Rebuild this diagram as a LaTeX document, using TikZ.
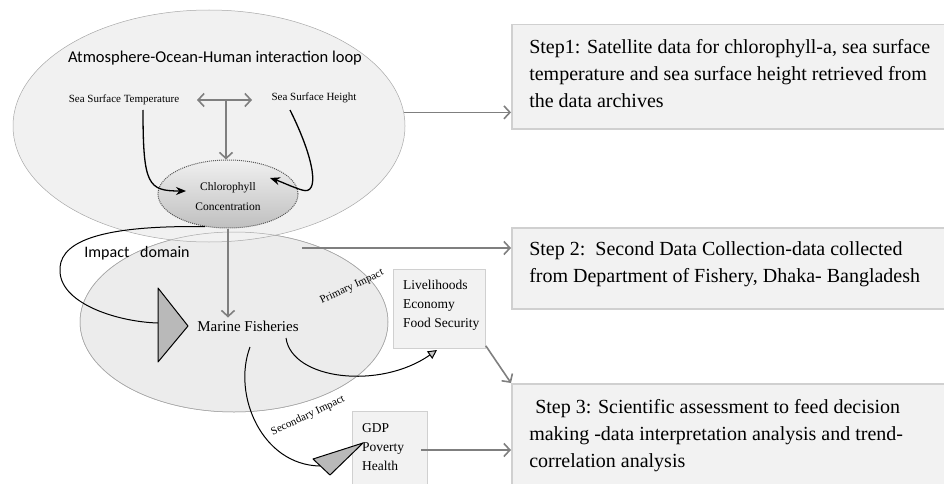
\documentclass[tikz,border=0pt]{standalone}
\usepackage{fontspec}
\setmainfont{Liberation Serif}
\newfontfamily\calib{Carlito}
\usetikzlibrary{arrows.meta,shapes.geometric}
\definecolor{arrowgray}{HTML}{7F7F7F}
\definecolor{boxfill}{HTML}{F2F2F2}
\definecolor{boxline}{HTML}{D0D0D0}
\definecolor{ellfill}{HTML}{F1F1F1}
\definecolor{ellfilltwo}{HTML}{ECECEC}
\definecolor{ellline}{HTML}{A8A8A8}
\begin{document}
\begin{tikzpicture}[x=1pt,y=-1pt,
  garrow/.style={draw=arrowgray, line width=1.6pt, -{Straight Barb[length=6pt,width=13pt]}},
  gdouble/.style={draw=arrowgray, line width=1.6pt, {Straight Barb[length=6pt,width=13pt]}-{Straight Barb[length=6pt,width=13pt]}},
  barrow/.style={draw=black, line width=1.3pt, -{Stealth[length=10pt,width=8pt]}},
  bline/.style={draw=black, line width=1.0pt},
  bigell/.style={ellipse, inner sep=0pt, draw=ellline, line width=0.5pt},
  stepbox/.style={rectangle, anchor=north west, fill=boxfill, draw=boxline, line width=1.5pt, inner sep=0pt},
  smallbox/.style={rectangle, anchor=north west, fill=boxfill, draw=boxline, line width=0.8pt, inner sep=0pt},
  steptext/.style={anchor=north west, inner sep=0pt, align=left, scale=1.3333, transform shape, font=\fontsize{15}{20.25}\selectfont},
  listtext/.style={anchor=north west, inner sep=0pt, align=left, font=\fontsize{13.5}{19}\selectfont},
  smalllabel/.style={inner sep=0pt, font=\fontsize{11}{13}\selectfont},
  tri/.style={draw=black, line width=1.0pt, fill=gray!55, line join=round}
]
\useasboundingbox (0,0) rectangle (944,484);

% ellipses
\node[bigell, fill=ellfilltwo, minimum width=308pt, minimum height=180pt] (low) at (234,322) {};
\node[bigell, fill=ellfill, minimum width=392pt, minimum height=232pt] (atm) at (209,126) {};
\draw[draw=ellline, line width=0.5pt] (234,322) ellipse [x radius=154, y radius=90];

% chlorophyll
\node[ellipse, inner sep=0pt, minimum width=140pt, minimum height=68pt, top color=gray!12, bottom color=gray!50, draw=gray!70!black, densely dotted, line width=1pt] (chl) at (228,194) {};
\node[font=\fontsize{11.5}{20}\selectfont, align=center, inner sep=0pt] (chlt) at (228,197) {Chlorophyll\\Concentration};

% title and labels
\node[font=\calib\fontsize{16.5}{18}\selectfont, inner sep=0pt] (title) at (215,58) {Atmosphere-Ocean-Human interaction loop};
\node[smalllabel] (sst) at (124,100) {Sea Surface Temperature};
\node[smalllabel] (ssh) at (314,98) {Sea Surface Height};
\coordinate (dbl) at (226,100);
\draw[gdouble] (197,100) -- (252,100);
\draw[garrow] (dbl) -- (dbl |- chl.north);

% SST and SSH curves
\coordinate (sststart) at (143,110);
\coordinate (sshstart) at (290,110);
\draw[barrow] (sststart) .. controls (143,185) and (148,191) .. (186,191);
\draw[barrow] (sshstart) .. controls (315,160) and (320,196) .. (302,190) .. controls (292,187) and (282,182) .. (270,178);

% Impact domain
\node[font=\calib\fontsize{16}{18}\selectfont, inner sep=0pt] (imp) at (137,253) {Impact\ \ \ domain};
\coordinate (t1) at (158,288);
\coordinate (t2) at (188,326);
\coordinate (t3) at (158,362);
\draw[bline] (chl.235) .. controls (90,225) and (58,245) .. (60,272) .. controls (62,305) and (120,322) .. (158,323);
\draw[tri] (t1) -- (t2) -- (t3) -- cycle;

% Marine fisheries
\node[font=\fontsize{15}{18}\selectfont, inner sep=3pt] (mf) at (248,326) {Marine Fisheries};
\draw[garrow] (chl.south) -- (chl.south |- mf.north);

% Primary impact
\node[smalllabel, rotate=25] (prim) at (352,287) {Primary Impact};
\node[smallbox, minimum width=92pt, minimum height=79pt] (liv) at (393,269) {};
\node[listtext] (livt) at (403,280) {Livelihoods\\Economy\\Food Security};
\coordinate (pstart) at (286,338);
\draw[draw=black, line width=1.0pt, -{Triangle[length=9pt,width=9pt,fill=gray!45]}] (pstart) .. controls (292,380) and (380,390) .. (437,350);

% Secondary impact
\node[smalllabel, rotate=25] (sec) at (308,416) {Secondary Impact};
\node[smallbox, minimum width=75pt, minimum height=90pt] (gdp) at (352,411) {};
\node[listtext] (gdpt) at (362,423) {GDP\\Poverty\\Health};
\coordinate (sstart) at (250,347);
\coordinate (s1t) at (313,459);
\coordinate (s2t) at (363,443);
\coordinate (s3t) at (330,475);
\draw[bline] (sstart) .. controls (232,395) and (262,465) .. (320,466);
\draw[tri] (s1t) -- (s2t) -- (s3t) -- cycle;

% Step boxes
\node[stepbox, minimum width=450pt, minimum height=104pt] (step1) at (511,24) {};
\node[steptext] (step1t) at (529,39) {Step1: Satellite data for chlorophyll-a, sea surface\\temperature and sea surface height retrieved from\\the data archives};
\node[stepbox, minimum width=450pt, minimum height=81pt] (step2) at (511,227) {};
\node[steptext] (step2t) at (529,241) {Step 2:\ \ Second Data Collection-data collected\\from Department of Fishery, Dhaka- Bangladesh};
\node[stepbox, minimum width=450pt, minimum height=120pt] (step3) at (511,383) {};
\node[steptext] (step3t) at (529,399) {\hspace{4.5pt}Step 3: Scientific assessment to feed decision\\making -data interpretation analysis and trend-\\correlation analysis};

% connectors to steps
\draw[garrow] (atm.4) -- (atm.4 -| step1.west);
\coordinate (a2) at (302,248);
\draw[garrow] (a2) -- (a2 -| step2.west);
\draw[garrow] (liv.south east) ++(0,-3) -- (step3.north west);
\coordinate (a4) at (421,450);
\draw[garrow] (a4) -- (a4 -| step3.west);
\end{tikzpicture}
\end{document}
